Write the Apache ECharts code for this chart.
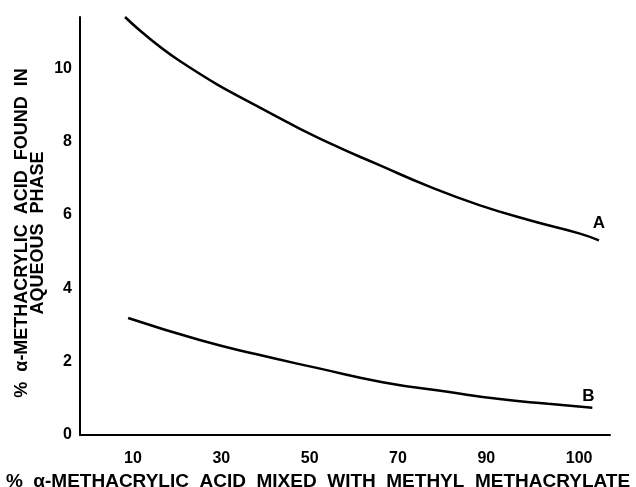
<!DOCTYPE html>
<html>
<head>
<meta charset="utf-8">
<script src="https://cdn.jsdelivr.net/npm/echarts@6/dist/echarts.min.js"></script>
<style>
  html, body { margin: 0; padding: 0; background: #fff; }
  #chart { width: 636px; height: 487px; }
</style>
</head>
<body>
<div id="chart"></div>
<script>
// curve A / curve B (x in axis units, y in %)
const curveA = [[8.2, 11.4], [20.6, 10.2], [43.2, 8.64], [55, 7.93], [65.8, 7.36], [77, 6.78], [88.4, 6.27], [100, 5.85], [111, 5.5], [115.5, 5.31]]
const curveB = [[8.9, 3.19], [25.1, 2.59], [38, 2.2], [51.6, 1.83], [66.5, 1.44], [81.6, 1.17], [93, 0.98], [104, 0.85], [114, 0.74]]
// tick positions and what is printed there
const xTickPos = [10, 30, 50, 70, 90, 111]
const xTickText = ['10', '30', '50', '70', '90', '100']
const yTicks = [0, 2, 4, 6, 8, 10]

const font = 'Liberation Sans'

let chart = echarts.init(document.getElementById('chart'))

function curve (name, data, offset) {
  return {
    name: name,
    type: 'line',
    smooth: true,
    symbol: 'none',
    lineStyle: { color: '#000', width: 2.5 },
    endLabel: {
      show: true,
      formatter: name,
      fontFamily: font,
      fontWeight: 'bold',
      fontSize: 17,
      color: '#000',
      align: 'center',
      verticalAlign: 'bottom',
      distance: 0,
      offset: offset
    },
    data: data
  }
}

let option = {
  animation: false,
  grid: { left: 80, top: 17, right: 26, bottom: 52, outerBoundsMode: 'none' },
  xAxis: {
    type: 'value',
    min: -2,
    max: 118,
    name: '%  α-METHACRYLIC  ACID  MIXED  WITH  METHYL  METHACRYLATE',
    nameLocation: 'middle',
    nameGap: 31,
    nameTextStyle: { fontFamily: font, fontWeight: 'bold', fontSize: 19, color: '#000', padding: [0, 54, 0, 0] },
    axisLine: { show: true, onZero: false, lineStyle: { color: '#000', width: 2 } },
    axisTick: { show: false },
    splitLine: { show: false },
    axisLabel: {
      customValues: xTickPos,
      formatter: v => xTickText[xTickPos.indexOf(v)],
      fontFamily: font,
      fontWeight: 'bold',
      fontSize: 16,
      color: '#000',
      margin: 16
    }
  },
  yAxis: {
    type: 'value',
    min: 0,
    max: 11.4,
    name: '%  α-METHACRYLIC  ACID  FOUND  IN\nAQUEOUS  PHASE',
    nameLocation: 'middle',
    nameGap: 34,
    nameMoveOverlap: false,
    nameTextStyle: { fontFamily: font, fontWeight: 'bold', fontSize: 18, color: '#000', lineHeight: 16, padding: [0, 14, 0, 0] },
    axisLine: { show: true, onZero: false, lineStyle: { color: '#000', width: 2 } },
    axisTick: { show: false },
    splitLine: { show: false },
    axisLabel: {
      customValues: yTicks,
      fontFamily: font,
      fontWeight: 'bold',
      fontSize: 16,
      color: '#000',
      margin: 8
    }
  },
  series: [
    curve('A', curveA, [0, -8]),
    curve('B', curveB, [-4, -3])
  ]
}
chart.setOption(option)
</script>
</body>
</html>
